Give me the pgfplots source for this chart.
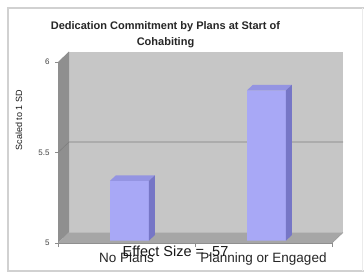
\documentclass[border=0pt]{standalone}
\usepackage{pgfplots}
\pgfplotsset{compat=1.18}
\usepackage{fontspec}
\setmainfont{Liberation Sans}
\definecolor{backwall}{HTML}{C6C6C6}
\definecolor{sidewall}{HTML}{8F8F8F}
\definecolor{floorc}{HTML}{A6A6A6}
\definecolor{gridc}{HTML}{7F7F7F}
\definecolor{barfront}{HTML}{A8A8F6}
\definecolor{bartop}{HTML}{9494E2}
\definecolor{barside}{HTML}{7676C6}
\begin{document}
\begin{tikzpicture}[x=1pt,y=1pt]
\useasboundingbox (0,0) rectangle (364,274);
\fill[white] (0,0) rectangle (364,274);
\draw[black!18, line width=1.6pt] (364,266) -- (8,266) -- (8,3) -- (364,3);
\draw[black!8, line width=0.8pt] (362.5,266) -- (362.5,3);
% decorations / front axis
\begin{axis}[
  at={(58pt,31pt)}, anchor=south west,
  scale only axis, width=274pt, height=181pt,
  xmin=-0.5, xmax=1.5, ymin=5, ymax=6,
  clip=false,
  axis lines*=left,
  axis line style={draw=black!45, line width=0.6pt},
  ytick={5,5.5,6},
  yticklabels={5,5.5,6},
  tick align=outside,
  major tick length=3pt,
  ytick style={draw=black!45, line width=0.6pt},
  yticklabel style={font=\fontsize{8}{9}\selectfont, text=black!75, xshift=-2pt},
  xtick={0,1},
  xticklabels={No Plans, Planning or Engaged},
  xtick style={draw=none},
  xticklabel style={font=\fontsize{13.5}{15}\selectfont, text=black!85, yshift=-3pt},
  extra x ticks={-0.5,0.5,1.5},
  extra x tick labels={},
  extra x tick style={xtick style={draw=black!45, line width=0.6pt}, major tick length=4pt},
  /pgf/number format/assume math mode=true,
]
% back wall
\addplot[fill=backwall, draw=none] coordinates {(-0.4197,5.058) (1.5803,5.058) (1.5803,6.058) (-0.4197,6.058)} -- cycle;
% side wall
\addplot[fill=sidewall, draw=none] coordinates {(-0.5,5) (-0.4197,5.058) (-0.4197,6.058) (-0.5,6)} -- cycle;
% floor
\addplot[fill=floorc, draw=none] coordinates {(-0.5,5) (1.5,5) (1.5803,5.058) (-0.4197,5.058)} -- cycle;
% gridline 5.5
\addplot[draw=gridc, line width=0.6pt] coordinates {(-0.5,5.5) (-0.4197,5.558) (1.5803,5.558)};
% floor front edge
\addplot[draw=black!40, line width=0.5pt] coordinates {(1.5,5) (1.5803,5.058)};
\end{axis}
% bar axis (bar plane, offset into depth)
\begin{axis}[
  at={(61pt,33.5pt)}, anchor=south west,
  scale only axis, width=274pt, height=181pt,
  xmin=-0.5, xmax=1.5, ymin=5, ymax=6,
  hide axis,
  clip=true,
]
\addplot[ybar, bar width=39pt, fill=barfront, draw=none] coordinates {(0,5.33) (1,5.83)};
% top faces
\addplot[fill=bartop, draw=none] coordinates {(-0.1423,5.33) (0.1423,5.33) (0.1861,5.3604) (-0.0985,5.3604)} -- cycle;
\addplot[fill=bartop, draw=none] coordinates {(0.8577,5.83) (1.1423,5.83) (1.1861,5.8604) (0.9015,5.8604)} -- cycle;
% side faces
\addplot[fill=barside, draw=none] coordinates {(0.1423,5) (0.1861,5.0304) (0.1861,5.3604) (0.1423,5.33)} -- cycle;
\addplot[fill=barside, draw=none] coordinates {(1.1423,5) (1.1861,5.0304) (1.1861,5.8604) (1.1423,5.83)} -- cycle;
\end{axis}
% title
\node[anchor=base, align=center, font=\fontsize{11}{16}\selectfont\bfseries, text=black!85] at (165.5,229) {Dedication Commitment by Plans at Start of\\Cohabiting};
% y label
\node[rotate=90, font=\fontsize{9}{10}\selectfont, text=black!90] at (19,154) {Scaled to 1 SD};
% effect size
\node[anchor=base, font=\fontsize{14.5}{16}\selectfont, text=black!90] at (175.5,18) {Effect Size = .57};
\end{tikzpicture}
\end{document}
